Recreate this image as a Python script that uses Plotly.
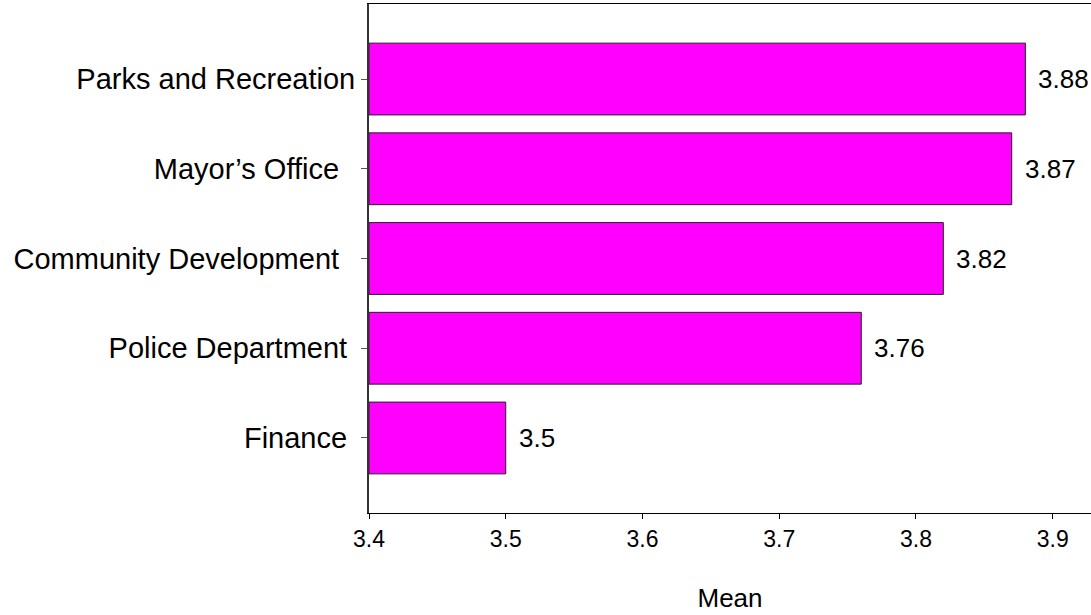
import plotly.graph_objects as go

# Department mean scores (top to bottom)
departments = [
    "Parks and Recreation",
    "Mayor\u2019s Office\u00a0\u00a0",
    "Community Development\u00a0\u00a0",
    "Police Department\u00a0",
    "Finance\u00a0",
]
means = [3.88, 3.87, 3.82, 3.76, 3.5]
value_labels = ["3.88", "3.87", "3.82", "3.76", "3.5"]
x_ticks = [3.4, 3.5, 3.6, 3.7, 3.8, 3.9]
x_start = 3.4

FONT = "Arial, Liberation Sans, sans-serif"

fig = go.Figure(
    go.Bar(
        x=[m - x_start for m in means],
        y=departments,
        base=x_start,
        orientation="h",
        marker=dict(color="#FF00FF", line=dict(color="#222222", width=1)),
        hoverinfo="skip",
    )
)

for dep, m, lab in zip(departments, means, value_labels):
    fig.add_annotation(
        x=m, y=dep, text=lab, showarrow=False,
        xanchor="left", xshift=11,
        font=dict(family=FONT, size=26, color="black"),
    )

fig.update_layout(
    width=1091, height=615,
    margin=dict(l=369, r=0, t=4, b=102),
    plot_bgcolor="white", paper_bgcolor="white",
    bargap=0.2,
    showlegend=False,
    font=dict(family=FONT, color="black"),
)
fig.update_xaxes(
    range=[x_start, 3.928],
    tickvals=x_ticks,
    ticktext=[f"{t:.1f}" for t in x_ticks],
    showgrid=False, zeroline=False,
    showline=True, linecolor="black", linewidth=1, mirror=True,
    ticks="outside", ticklen=5, tickcolor="black",
    tickfont=dict(family=FONT, size=23),
    automargin=False,
    title=dict(text="Mean", font=dict(family=FONT, size=26), standoff=38),
)
fig.update_yaxes(
    range=[4.836, -0.836],
    showgrid=False, zeroline=False,
    showline=True, linecolor="#333333", linewidth=2,
    ticks="outside", ticklen=6, tickcolor="#555555",
    tickfont=dict(family=FONT, size=29),
    automargin=False,
)

fig.write_html("out.html")
